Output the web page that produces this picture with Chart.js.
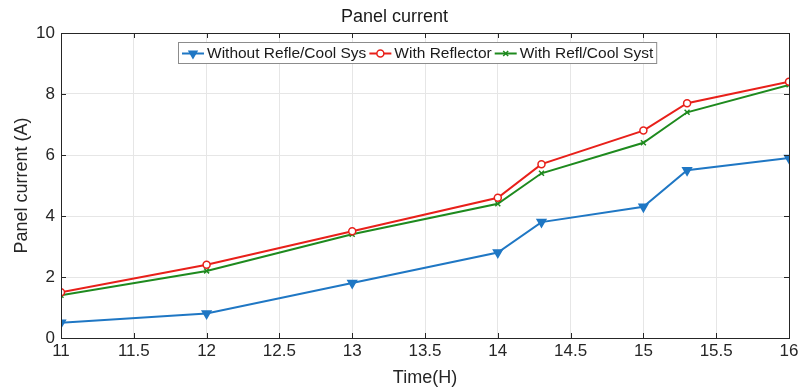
<!DOCTYPE html>
<html>
<head>
<meta charset="utf-8">
<script src="https://cdn.jsdelivr.net/npm/chart.js@4"></script>
<style>
  html, body { margin: 0; padding: 0; background: #fff; }
  #wrap { width: 800px; height: 391px; }
</style>
</head>
<body>
<div id="wrap"><canvas id="myChart" width="800" height="391"></canvas></div>
<script>
// datos
const hours = [11, 12, 13, 14, 14.3, 15, 15.3, 16];
const withoutSys = [0.5, 0.8, 1.8, 2.8, 3.8, 4.3, 5.5, 5.9];
const withReflector = [1.5, 2.4, 3.5, 4.6, 5.7, 6.8, 7.7, 8.4];
const withReflCool = [1.4, 2.2, 3.4, 4.4, 5.4, 6.4, 7.4, 8.3];
const seriesNames = ['Without Refle/Cool Sys', 'With Reflector', 'With Refl/Cool Syst'];

const FONT = '"Liberation Sans", Arial, sans-serif';
const toPoints = (ys) => hours.map((h, i) => ({ x: h, y: ys[i] }));

// marco, marcas hacia dentro y leyenda dentro del area
const framePlugin = {
    id: 'frame',
    afterDraw(chart) {
        const { ctx, chartArea: a, scales } = chart;
        ctx.save();
        ctx.strokeStyle = '#262626';
        ctx.lineWidth = 1;
        ctx.beginPath();
        const tl = 5;
        scales.x.ticks.forEach(t => {
            const px = Math.round(scales.x.getPixelForValue(t.value)) + 0.5;
            ctx.moveTo(px, a.bottom); ctx.lineTo(px, a.bottom - tl);
            ctx.moveTo(px, a.top); ctx.lineTo(px, a.top + tl);
        });
        scales.y.ticks.forEach(t => {
            const py = Math.round(scales.y.getPixelForValue(t.value)) + 0.5;
            ctx.moveTo(a.left, py); ctx.lineTo(a.left + tl, py);
            ctx.moveTo(a.right, py); ctx.lineTo(a.right - tl, py);
        });
        ctx.stroke();
        ctx.strokeRect(Math.round(a.left) + 0.5, Math.round(a.top) + 0.5,
            Math.round(a.right - a.left), Math.round(a.bottom - a.top));

        // leyenda
        ctx.font = '15.5px ' + FONT;
        const sample = 22;
        const items = chart.data.datasets.map(ds => ({ ds, w: ctx.measureText(ds.label).width }));
        const total = items.reduce((s, it) => s + sample + 3 + it.w + 3, 0) + 4;
        let x = Math.round((a.left + a.right) / 2 - total / 2 - 8);
        const top = a.top + 9, h = 21;
        ctx.fillStyle = '#fff';
        ctx.fillRect(x, top, total, h);
        ctx.strokeStyle = '#8c8c8c';
        ctx.strokeRect(x + 0.5, top + 0.5, total, h);
        const cy = top + h / 2 + 1;
        x += 4;
        items.forEach(({ ds, w }) => {
            ctx.strokeStyle = ds.borderColor;
            ctx.lineWidth = 2;
            ctx.beginPath();
            ctx.moveTo(x, cy); ctx.lineTo(x + sample, cy);
            ctx.stroke();
            ctx.fillStyle = ds.pointBackgroundColor;
            ctx.lineWidth = 1.5;
            Chart.helpers.drawPoint(ctx, {
                pointStyle: ds.pointStyle,
                radius: ds.pointRadius,
                rotation: ds.pointRotation || 0,
                borderWidth: 1.5
            }, x + sample / 2, cy);
            x += sample + 3;
            ctx.fillStyle = '#1a1a1a';
            ctx.textBaseline = 'middle';
            ctx.fillText(ds.label, x, cy);
            x += w + 3;
        });
        ctx.restore();
    }
};

const ctx = document.getElementById('myChart');

new Chart(ctx, {
    type: 'line',
    data: {
        datasets: [{
            label: seriesNames[0],
            data: toPoints(withoutSys),
            borderColor: '#1f77c4',
            backgroundColor: '#1f77c4',
            pointBackgroundColor: '#1f77c4',
            pointStyle: 'triangle',
            pointRotation: 180,
            pointRadius: 4.5,
            borderWidth: 2,
            tension: 0
        }, {
            label: seriesNames[1],
            data: toPoints(withReflector),
            borderColor: '#e8201a',
            backgroundColor: '#fff',
            pointBackgroundColor: '#fff',
            pointStyle: 'circle',
            pointRadius: 3.5,
            pointBorderWidth: 1.5,
            borderWidth: 2,
            tension: 0
        }, {
            label: seriesNames[2],
            data: toPoints(withReflCool),
            borderColor: '#1e8a1e',
            backgroundColor: '#1e8a1e',
            pointBackgroundColor: '#1e8a1e',
            pointStyle: 'crossRot',
            pointRadius: 3.5,
            pointBorderWidth: 1.5,
            borderWidth: 2,
            tension: 0
        }]
    },
    options: {
        responsive: false,
        animation: false,
        layout: { padding: { left: 0, right: 11, top: 0, bottom: 0 } },
        plugins: {
            legend: { display: false },
            tooltip: { enabled: false },
            title: {
                display: true,
                text: 'Panel current',
                color: '#1a1a1a',
                font: { family: FONT, size: 18, weight: 'normal', lineHeight: 1.2 },
                padding: { top: 6, bottom: 5.4 }
            }
        },
        scales: {
            x: {
                type: 'linear',
                min: 11,
                max: 16,
                afterFit: s => {
                    s.height = 53;
                    s.paddingLeft = 0;
                    s.paddingRight = 0;
                },
                ticks: {
                    stepSize: 0.5,
                    color: '#262626',
                    padding: 3,
                    maxRotation: 0,
                    font: { family: FONT, size: 17 },
                    callback: v => String(v)
                },
                grid: { color: '#e6e6e6', drawTicks: false },
                border: { color: '#262626' },
                title: {
                    display: true,
                    text: 'Time(H)',
                    color: '#262626',
                    font: { family: FONT, size: 18, lineHeight: 1.2 },
                    padding: { top: 0, bottom: 2 }
                }
            },
            y: {
                min: 0,
                max: 10,
                afterFit: s => { s.width = 61; },
                ticks: {
                    stepSize: 2,
                    color: '#262626',
                    padding: 6,
                    font: { family: FONT, size: 17 }
                },
                grid: { color: '#e6e6e6', drawTicks: false },
                border: { color: '#262626' },
                title: {
                    display: true,
                    text: 'Panel current (A)',
                    color: '#262626',
                    font: { family: FONT, size: 18, lineHeight: 1.2 },
                    padding: { top: 11, bottom: 0 }
                }
            }
        }
    },
    plugins: [framePlugin]
});
</script>
</body>
</html>
